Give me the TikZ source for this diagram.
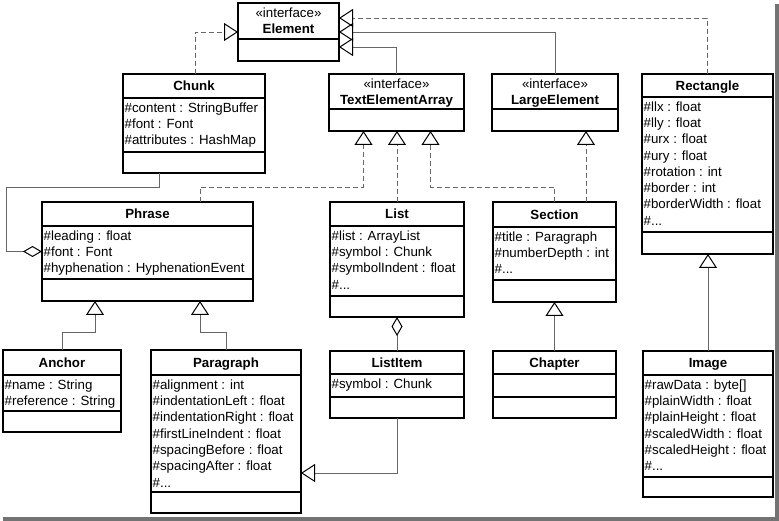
\documentclass[tikz,border=0pt]{standalone}
\usepackage{fontspec}
\setmainfont{Liberation Sans}
\usetikzlibrary{arrows.meta}
\newcommand\umlcls[9]{%
  \node[clsbox, minimum width=#4pt, minimum height=#5pt, anchor=north west] (#1) at (#2,#3) {};
  \draw[clsline] ([yshift=-#6pt]#1.north west) -- ([yshift=-#6pt]#1.north east);
  \if\relax\detokenize{#7}\relax\else\draw[clsline] ([yshift=-#7pt]#1.north west) -- ([yshift=-#7pt]#1.north east);\fi
  \if\relax\detokenize{#8}\relax\else\node[clstitle] (#1-t) at ([yshift={-0.5*#6pt-4.8pt}]#1.north) {#8};\fi
  \if\relax\detokenize{#9}\relax\else\node[clsattr] (#1-a) at ([yshift={-#6pt-3pt}]#1.north west) {\rule{0pt}{11pt}#9};\fi
}
\newcommand\umliface[2]{%
  \node[anchor=base, inner sep=0] (#1-s) at ([yshift=-14.5pt]#1.north) {«interface»};
  \node[clstitle] (#1-t) at ([yshift=-30.5pt]#1.north) {#2};
}
\tikzset{
  clsbox/.style={draw=black, line width=1.6pt, fill=white, inner sep=0pt, outer sep=0pt},
  clsline/.style={draw=black, line width=1.6pt},
  clstitle/.style={anchor=base, inner sep=0pt, font=\fontsize{13.3}{16.3}\selectfont\bfseries},
  clsattr/.style={anchor=north west, align=left, inner xsep=1.5pt, inner ysep=0pt, font=\fontsize{13.3}{16.3}\selectfont},
  conn/.style={draw=black!60, line width=0.9pt},
  gen/.style={conn, -{Triangle[open, length=14pt, width=18pt, color=black, line width=1pt]}},
  real/.style={gen, dash pattern=on 5pt off 3pt},
  aggr/.style={conn, -{Diamond[open, length=19pt, width=11pt, color=black, line width=1pt]}},
}
\begin{document}
\begin{tikzpicture}[x=1pt, y=-1pt, font=\fontsize{13.3}{16.3}\selectfont]
\useasboundingbox (0,0) rectangle (779,521);
\fill[white] (0,0) rectangle (779,521);
% shadow of the frame
\fill[black!55] (775,4) rectangle (779,521);
\fill[black!55] (3,517) rectangle (779,521);

% classes
\umlcls{Element}{238}{3}{101}{58}{36}{}{}{}
\umliface{Element}{Element}
\umlcls{Chunk}{123}{74}{142}{99}{24}{78}{Chunk}{\#content : StringBuffer\\\#font : Font\\\#attributes : HashMap}
\umlcls{TEA}{329}{74}{135}{57}{35}{}{}{}
\umliface{TEA}{TextElementArray}
\umlcls{LargeElement}{492}{74}{126}{57}{35}{}{}{}
\umliface{LargeElement}{LargeElement}
\umlcls{Rectangle}{642}{74}{131}{180}{23}{158}{Rectangle}{\#llx : float\\\#lly : float\\\#urx : float\\\#ury : float\\\#rotation : int\\\#border : int\\\#borderWidth : float\\\#...}
\umlcls{Phrase}{42}{202}{211}{99}{24}{77}{Phrase}{\#leading : float\\\#font : Font\\\#hyphenation : HyphenationEvent}
\umlcls{List}{330}{202}{134}{115}{24}{94}{List}{\#list : ArrayList\\\#symbol : Chunk\\\#symbolIndent : float\\\#...}
\umlcls{Section}{493}{202}{123}{100}{25}{78}{Section}{\#title : Paragraph\\\#numberDepth : int\\\#...}
\umlcls{Anchor}{3}{350}{118}{82}{25}{61}{Anchor}{\#name : String\\\#reference : String}
\umlcls{Paragraph}{151}{350}{150}{163}{25}{142}{Paragraph}{\#alignment : int\\\#indentationLeft : float\\\#indentationRight : float\\\#firstLineIndent : float\\\#spacingBefore : float\\\#spacingAfter : float\\\#...}
\umlcls{ListItem}{330}{351}{134}{67}{23}{46}{ListItem}{\#symbol : Chunk}
\umlcls{Chapter}{493}{351}{123}{67}{23}{46}{Chapter}{}
\umlcls{Image}{643}{351}{130}{146}{24}{126}{Image}{\#rawData : byte[]\\\#plainWidth : float\\\#plainHeight : float\\\#scaledWidth : float\\\#scaledHeight : float\\\#...}

% connectors
\draw[real] ([xshift=72pt]Chunk.north west) |- (Element.west);
\draw[real] ([xshift=65pt]Rectangle.north west) |- ([yshift=14pt]Element.east);
\draw[gen] (LargeElement.north) |- (Element.east);
\draw[gen] (TEA.north) |- ([yshift=-15pt]Element.east);
\draw[real] ([xshift=52.5pt]Phrase.north) -- ++(0,-15) -| ([xshift=-33pt]TEA.south);
\draw[real] (List.north) -- (List.north |- TEA.south);
\draw[real] (Section.north) -- ++(0,-15) -| ([xshift=34pt]TEA.south);
\coordinate (secR) at ([xshift=31.5pt]Section.north);
\draw[real] (secR) -- (secR |- LargeElement.south);
\coordinate (aggL) at (6,187);
\draw[aggr] ([xshift=-35pt]Chunk.south) |- (aggL) |- (Phrase.west);
\draw[gen] (Anchor.north) -- ++(0,-18) -| ([xshift=-52.5pt]Phrase.south);
\draw[gen] (Paragraph.north) -- ++(0,-18) -| ([xshift=52.5pt]Phrase.south);
\draw[aggr] (ListItem.north) -- (List.south);
\draw[gen] (ListItem.south) |- ([yshift=-41.5pt]Paragraph.east);
\draw[gen] (Chapter.north) -- (Section.south);
\draw[gen] (Image.north) -- (Image.north |- Rectangle.south);
\end{tikzpicture}
\end{document}
